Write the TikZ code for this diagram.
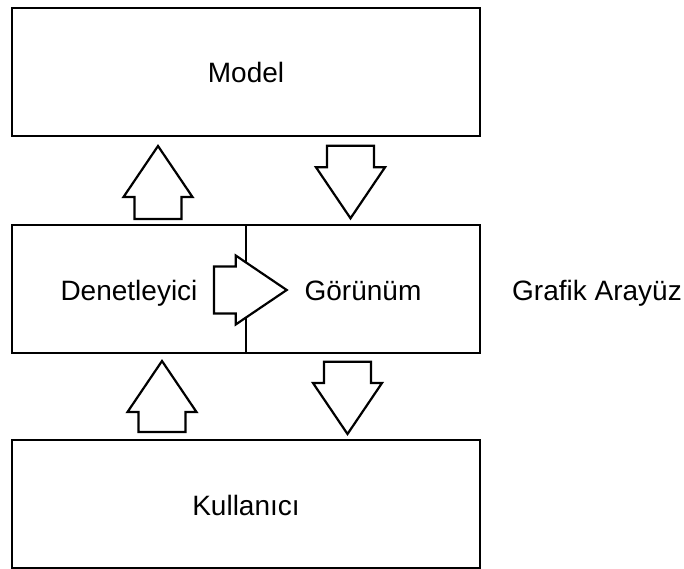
\documentclass[tikz,border=0pt]{standalone}
\usepackage{fontspec}
\setmainfont{Liberation Sans}
\begin{document}
\begin{tikzpicture}[x=1pt,y=-1pt,
  box/.style={draw=black,line width=2.2pt,minimum width=#1,minimum height=128pt,
    inner sep=0pt,text height=22pt,text depth=0pt},
  box/.default=468pt,
  label/.style={inner sep=0pt,text height=22pt,text depth=0pt},
  every node/.style={font=\fontsize{28}{33}\selectfont},
  % hollow block arrow pointing along +x, base centre at the origin, length #1
  barrow/.pic={
    \draw[line width=2.2pt,line join=miter,fill=white]
      (0,-23.5) -- ({#1-51},-23.5) -- ({#1-51},-34.5) -- (#1,0)
      -- ({#1-51},34.5) -- ({#1-51},23.5) -- (0,23.5) -- cycle;
  }]
\useasboundingbox (0,0) rectangle (684,569);

% boxes
\node[box] (model) at (246,72) {Model};
\node[box=234pt] (ctrl) at (129,289) {Denetleyici};
\node[box=234pt] (view) at (363,289) {Görünüm};
\node[box] (user) at (246,504) {Kullanıcı};
\node[label] (gui) at (597,289) {Grafik Arayüz};

% block arrows between the boxes
\pic[rotate=90]  at (158,219)   {barrow=73};
\pic[rotate=-90] at (350.5,145.7) {barrow=72.6};
\pic[rotate=90]  at (162,432)   {barrow=71};
\pic[rotate=-90] at (347.5,361.7) {barrow=72.3};
\pic             at (214,290)   {barrow=72.7};
\end{tikzpicture}
\end{document}
